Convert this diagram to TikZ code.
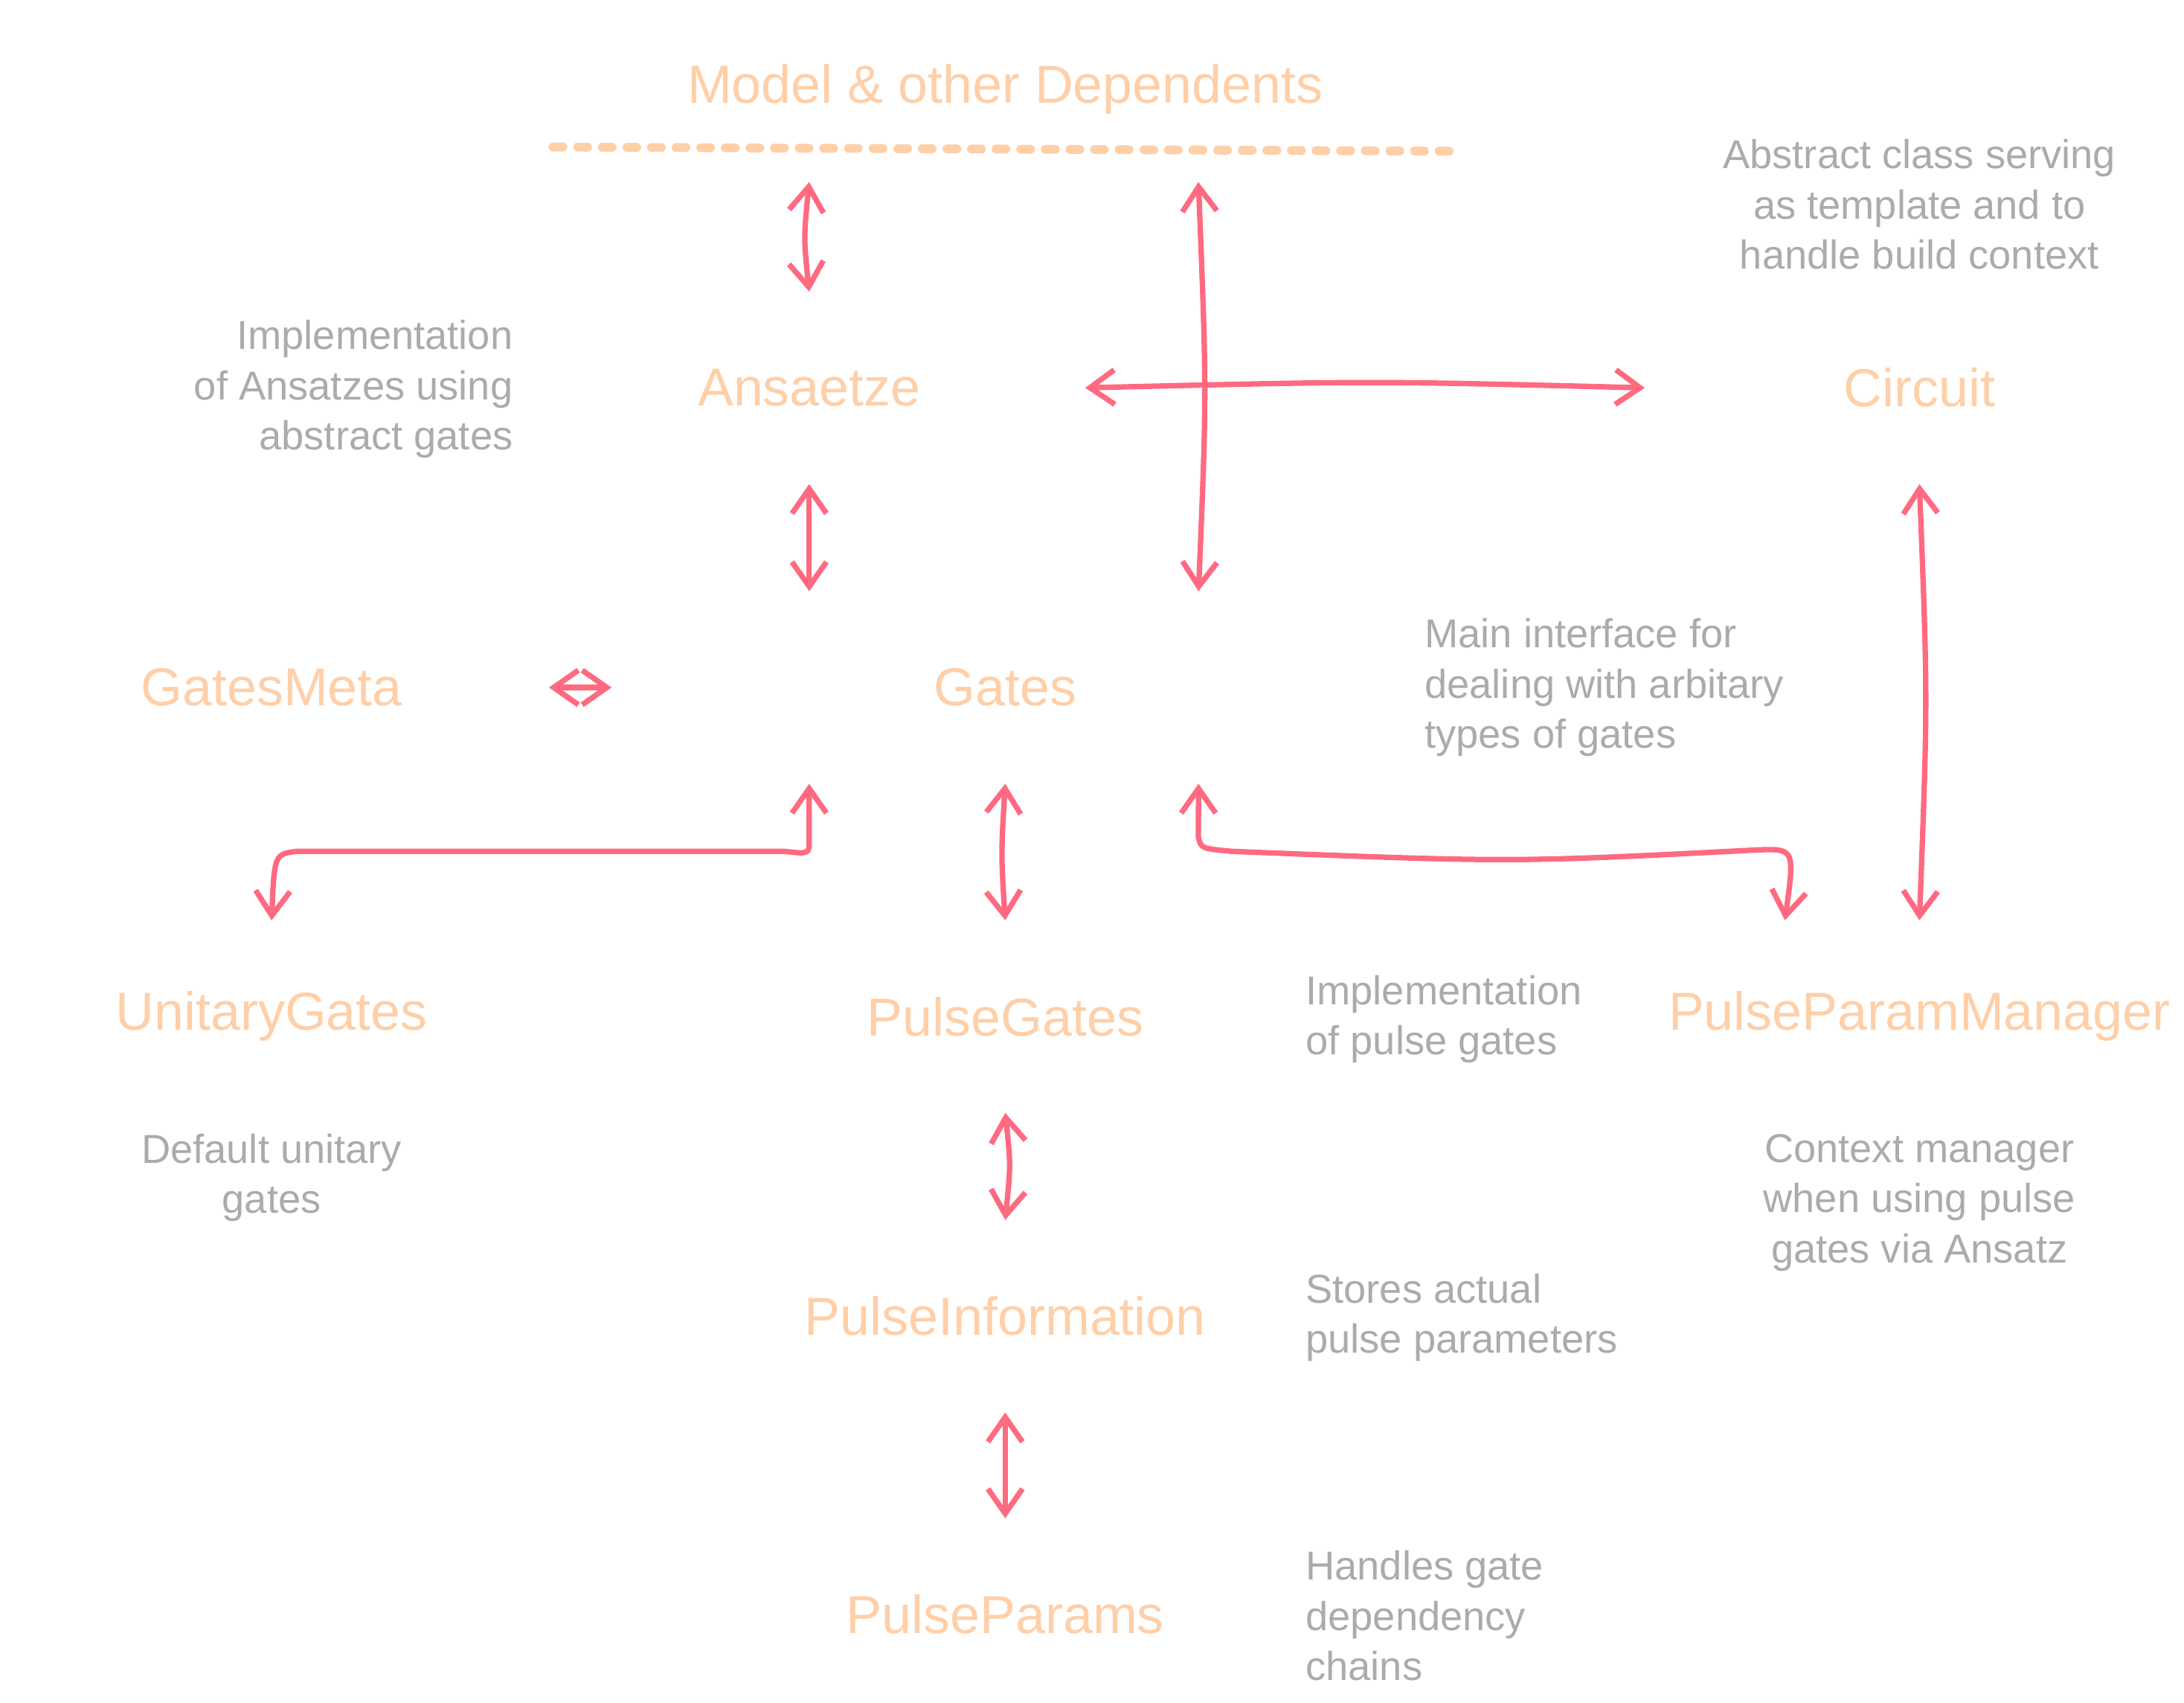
\documentclass[tikz,border=0pt]{standalone}
\usepackage{fontspec}
\setmainfont{Liberation Sans}
\usetikzlibrary{arrows.meta}
\definecolor{peach}{HTML}{FFCFA8}
\definecolor{rose}{HTML}{FF6A80}
\definecolor{note}{HTML}{ABABAB}

\begin{document}
\begin{tikzpicture}[
        x = 0.01cm, y = -0.01cm,
        line join=round, line cap=round,
        box/.style = {text=peach, font=\fontsize{10.85pt}{12pt}\selectfont, minimum height=1.36cm, inner sep=0pt},
        info/.style = {text=note, font=\fontsize{8.2pt}{10.2pt}\selectfont, inner sep=0pt},
        link/.style = {rose, line width=1.1pt, {Straight Barb[length=5pt,width=7pt]}-{Straight Barb[length=5pt,width=7pt]}}
    ]
    \useasboundingbox (0,0) rectangle (1560,1216);

    \node[box] (model) at (718,64) {Model \& other Dependents};
    \draw[peach, line width=1.8pt, dash pattern=on 2pt off 3pt] (395,105) -- (1035,108);
    \coordinate (mleft) at (578,130);
    \coordinate (mright) at (856,130);

    \node[box] (ans) at (578,277) {Ansaetze};
    \node[box] (circ) at (1371,277) {Circuit};
    \node[box] (meta) at (194,491) {GatesMeta};
    \node[box] (gates) at (718,491) {Gates};
    \node[box] (unitary) at (194,726) {UnitaryGates};
    \node[box] (pulse) at (718,726) {PulseGates};
    \node[box] (ppm) at (1371,726) {PulseParamManager};
    \node[box] (pinfo) at (718,940) {PulseInformation};
    \node[box] (pparams) at (718,1153) {PulseParams};

    \node[info, align=right, anchor=east] (n1) at (367,278) {Implementation\\of Ansatzes using\\abstract gates};
    \node[info, align=center] (n2) at (1371,146) {Abstract class serving\\as template and to\\handle build context};
    \node[info, align=left, anchor=west] (n3) at (1017,491) {Main interface for\\dealing with arbitary\\types of gates};
    \node[info, align=left, anchor=west] (n4) at (932,728) {Implementation\\of pulse gates};
    \node[info, align=center] (n5) at (194,841) {Default unitary\\gates};
    \node[info, align=center] (n6) at (1371,859) {Context manager\\when using pulse\\gates via Ansatz};
    \node[info, align=left, anchor=west] (n7) at (932,941) {Stores actual\\pulse parameters};
    \node[info, align=left, anchor=west] (n8) at (932,1154) {Handles gate\\dependency\\chains};

    \draw[link] (mleft) .. controls (574,170) .. (ans.north);
    \draw[link] (mright) .. controls (862,280) .. ([xshift=1.38cm]gates.north);
    \draw[link] ([xshift=1.97cm]ans.center) .. controls (980,272) .. ([xshift=-1.96cm]circ.center);
    \draw[link] (ans.south) -- (gates.north -| ans);
    \draw[link] ([xshift=1.98cm]meta.center) -- ([xshift=-2.81cm]gates.center);
    \draw[link] (gates.south -| ans) -- (578,600) .. controls (578,610) .. (560,608)
        -- (212,608) .. controls (196,610) .. (unitary.north);
    \draw[link] (gates.south) .. controls (715,610) .. (pulse.north);
    \draw[link] ([xshift=1.38cm]gates.south) -- (856,598) .. controls (858,606) .. (880,608)
        .. controls (1080,616) .. (1255,607) .. controls (1282,606) .. ([xshift=-0.96cm]ppm.north);
    \draw[link] (circ.south) .. controls (1377,500) .. (ppm.north);
    \draw[link] (pulse.south) .. controls (722,832) .. (pinfo.north);
    \draw[link] (pinfo.south) -- (pparams.north);
\end{tikzpicture}
\end{document}
